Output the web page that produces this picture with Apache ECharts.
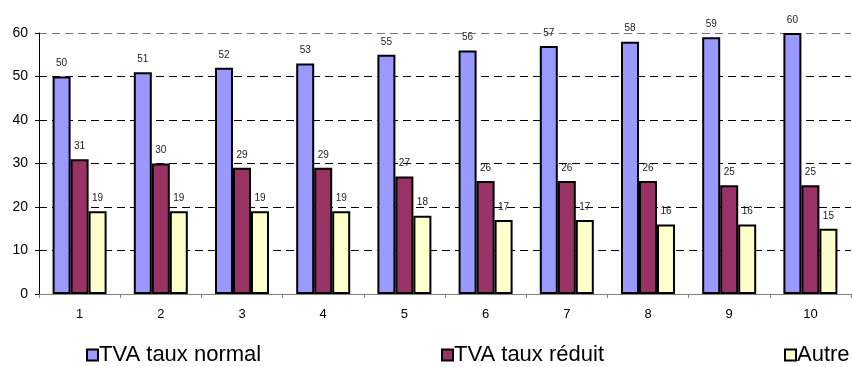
<!DOCTYPE html>
<html>
<head>
<meta charset="utf-8">
<script src="https://cdn.jsdelivr.net/npm/echarts@6/dist/echarts.min.js"></script>
<style>
  html, body { margin: 0; padding: 0; background: #fff; }
  #chart { width: 852px; height: 367px; }
</style>
</head>
<body>
<div id="chart"></div>
<script>
// Categories and series values
var categories = ['1', '2', '3', '4', '5', '6', '7', '8', '9', '10'];
var tvaNormal  = [50, 51, 52, 53, 55, 56, 57, 58, 59, 60];
var tvaReduit  = [31, 30, 29, 29, 27, 26, 26, 26, 25, 25];
var autre      = [19, 19, 19, 19, 18, 17, 17, 16, 16, 15];
var seriesNames = ['TVA taux normal', 'TVA taux réduit', 'Autre'];
var yTicks = { min: 0, max: 60, interval: 10 };

var FONT = 'Liberation Sans, Arial, sans-serif';
var colors = ['#9999FF', '#993366', '#FFFFCC'];

function barSeries(name, data, color) {
  return {
    name: name,
    type: 'bar',
    data: data,
    barWidth: 18,
    barGap: '0%',
    itemStyle: { color: color, borderColor: '#000', borderWidth: 2 },
    label: {
      show: true,
      position: 'top',
      distance: 8,
      color: '#222',
      fontSize: 10,
      fontFamily: FONT,
      formatter: function (p) { return Math.round(p.value); }
    },
    emphasis: { disabled: true }
  };
}

// One legend per series; the swatch is a rich-text box with a black outline
function legendAt(left, name, color) {
  return {
    data: [{ name: name, icon: 'none' }],
    left: left,
    top: 344,
    itemWidth: 0,
    itemHeight: 0,
    padding: 0,
    selectedMode: false,
    formatter: function (n) { return '{b|}{t|' + n + '}'; },
    textStyle: {
      fontSize: 22,
      fontFamily: FONT,
      color: '#000',
      padding: [0, 0, 0, -5],
      rich: {
        b: { width: 9, height: 9, backgroundColor: color, borderColor: '#000', borderWidth: 2, verticalAlign: 'middle' },
        t: { fontSize: 22, fontFamily: FONT, color: '#000', padding: [0, 0, 0, 2], verticalAlign: 'middle' }
      }
    }
  };
}

var chart = echarts.init(document.getElementById('chart'), null, { renderer: 'canvas' });
chart.setOption({
  animation: false,
  backgroundColor: '#fff',
  grid: { left: 39, right: 1, top: 33, bottom: 73, containLabel: false },
  legend: [
    legendAt(86, seriesNames[0], colors[0]),
    legendAt(441, seriesNames[1], colors[1]),
    legendAt(784, seriesNames[2], colors[2])
  ],
  xAxis: {
    type: 'category',
    data: categories,
    axisLine: { show: true, lineStyle: { color: '#808080', width: 1 } },
    axisTick: { show: true, alignWithLabel: false, length: 4, lineStyle: { color: '#808080' } },
    axisLabel: { color: '#000', fontSize: 13, fontFamily: FONT, margin: 14 },
    splitLine: { show: false }
  },
  yAxis: {
    type: 'value',
    min: yTicks.min,
    max: yTicks.max,
    interval: yTicks.interval,
    axisLine: { show: true, lineStyle: { color: '#000', width: 1 } },
    axisTick: { show: true, length: 4, lineStyle: { color: '#000' } },
    axisLabel: { color: '#000', fontSize: 14, fontFamily: FONT, margin: 11 },
    splitLine: {
      show: true,
      lineStyle: {
        color: ['#000', '#000', '#000', '#000', '#000', '#000', '#777'],
        type: [8, 5],
        width: 1
      }
    }
  },
  series: [
    barSeries(seriesNames[0], tvaNormal, colors[0]),
    barSeries(seriesNames[1], tvaReduit, colors[1]),
    barSeries(seriesNames[2], autre, colors[2])
  ]
});
</script>
</body>
</html>
